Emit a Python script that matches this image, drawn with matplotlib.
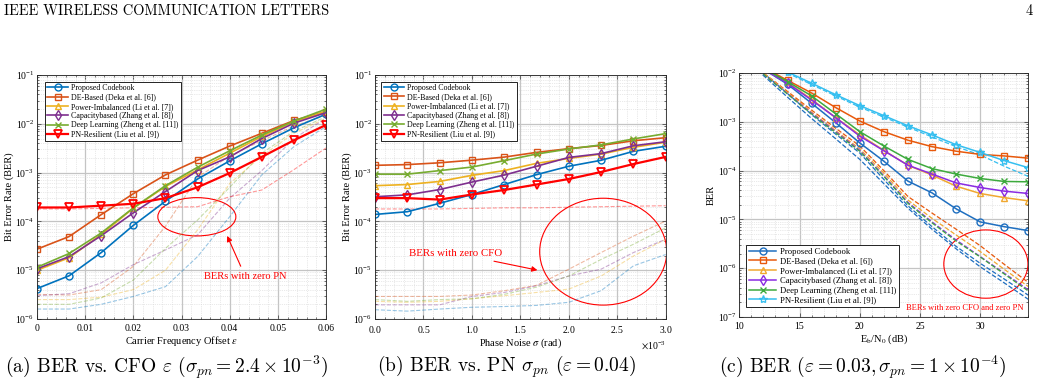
import numpy as np
import matplotlib
matplotlib.use('Agg')
import matplotlib.pyplot as plt
from matplotlib import ticker
from matplotlib.patches import Ellipse

plt.rcParams['font.family'] = ['Liberation Serif', 'DejaVu Serif']
plt.rcParams['mathtext.fontset'] = 'stix'

labels = ['Proposed Codebook', 'DE-Based (Deka et al. [6])', 'Power-Imbalanced (Li et al. [7])',
          'Capacitybased (Zhang et al. [8])', 'Deep Learning (Zheng et al. [11])']
label_pn = 'PN-Resilient (Liu et al. [9])'

# (a) BER vs CFO
cfo = [0, 0.00667, 0.01333, 0.02, 0.02667, 0.03333, 0.04, 0.04667, 0.05333, 0.06]
a_prop = [4.2e-6, 7.7e-6, 2.3e-5, 8.3e-5, 2.6e-4, 7.4e-4, 1.74e-3, 3.9e-3, 8.3e-3, 1.58e-2]
a_de = [2.7e-5, 4.9e-5, 1.38e-4, 3.7e-4, 9.0e-4, 1.8e-3, 3.5e-3, 6.4e-3, 1.17e-2, 1.78e-2]
a_pow = [1.0e-5, 1.8e-5, 5.4e-5, 1.87e-4, 5.2e-4, 1.14e-3, 2.5e-3, 5.5e-3, 1.1e-2, 1.8e-2]
a_cap = [1.07e-5, 1.9e-5, 5.1e-5, 1.5e-4, 4.1e-4, 1.1e-3, 2.1e-3, 5.0e-3, 1.03e-2, 1.7e-2]
a_dl = [1.15e-5, 2.2e-5, 5.8e-5, 1.9e-4, 5.4e-4, 1.29e-3, 2.8e-3, 5.9e-3, 1.14e-2, 2.0e-2]
a_pnr = [1.93e-4, 1.93e-4, 2.1e-4, 2.3e-4, 3.0e-4, 5.0e-4, 9.8e-4, 2.1e-3, 4.6e-3, 9.5e-3]
# zero PN (dashed)
a0_prop = [1.6e-6, 1.6e-6, 2.0e-6, 2.9e-6, 4.6e-6, 1.9e-5, 1.25e-4, 9e-4, 3.4e-3, 8.8e-3]
a0_de = [3.2e-6, 3.1e-6, 4.0e-6, 1.2e-5, 8e-5, 8e-4, 2.2e-3, 4.5e-3, 9e-3, 1.5e-2]
a0_pow = [2.5e-6, 2.5e-6, 2.8e-6, 4e-6, 1.0e-5, 6.7e-5, 6e-4, 2.2e-3, 6.4e-3, 1.3e-2]
a0_cap = [3.0e-6, 3.3e-6, 5.5e-6, 1.3e-5, 2.6e-5, 5.3e-5, 3e-4, 1.1e-3, 5e-3, 1.3e-2]
a0_dl = [2.0e-6, 2.0e-6, 2.7e-6, 6.3e-6, 2.8e-5, 1.07e-4, 5e-4, 2.5e-3, 7e-3, 1.4e-2]
a0_pnr = [1.8e-4, 1.8e-4, 1.85e-4, 1.9e-4, 1.95e-4, 2.0e-4, 3.2e-4, 4.4e-4, 1.15e-3, 3.2e-3]

# (b) BER vs PN
pn = [0, 0.000333, 0.000667, 0.001, 0.001333, 0.001667, 0.002, 0.002333, 0.002667, 0.003]
b_prop = [1.39e-4, 1.58e-4, 2.35e-4, 3.56e-4, 5.7e-4, 9.1e-4, 1.35e-3, 1.79e-3, 2.73e-3, 3.47e-3]
b_de = [1.41e-3, 1.46e-3, 1.59e-3, 1.8e-3, 2.08e-3, 2.6e-3, 3.1e-3, 3.6e-3, 4.5e-3, 5.2e-3]
b_pow = [5.4e-4, 5.7e-4, 6.6e-4, 8.8e-4, 1.1e-3, 1.55e-3, 1.95e-3, 2.4e-3, 3.3e-3, 4.2e-3]
b_cap = [3.2e-4, 3.5e-4, 4.5e-4, 6.4e-4, 8.9e-4, 1.35e-3, 2.05e-3, 2.45e-3, 3.55e-3, 4.3e-3]
b_dl = [9.3e-4, 9.3e-4, 1.1e-3, 1.3e-3, 1.76e-3, 2.4e-3, 3.05e-3, 3.7e-3, 4.9e-3, 6.3e-3]
b_pnr = [3.0e-4, 3.0e-4, 2.8e-4, 3.56e-4, 4.4e-4, 5.7e-4, 7.4e-4, 1.03e-3, 1.5e-3, 2.1e-3]
# zero CFO (dashed)
b0_prop = [1.55e-6, 1.45e-6, 1.6e-6, 1.74e-6, 1.8e-6, 1.9e-6, 2.2e-6, 3.8e-6, 1.23e-5, 2.1e-5]
b0_de = [2.9e-6, 2.9e-6, 2.9e-6, 3.1e-6, 3.8e-6, 4.9e-6, 1.05e-5, 2.3e-5, 5.0e-5, 1.02e-4]
b0_pow = [2.3e-6, 2.2e-6, 2.3e-6, 2.6e-6, 3.0e-6, 3.5e-6, 4.1e-6, 7.6e-6, 1.95e-5, 4.3e-5]
b0_cap = [1.95e-6, 1.95e-6, 1.95e-6, 2.9e-6, 3.5e-6, 4.8e-6, 7.6e-6, 1.05e-5, 2.3e-5, 4.3e-5]
b0_dl = [2.5e-6, 2.3e-6, 2.5e-6, 2.6e-6, 3.2e-6, 4.5e-6, 7.6e-6, 1.66e-5, 3.4e-5, 7.4e-5]
b0_pnr = [1.8e-4, 1.8e-4, 1.8e-4, 1.85e-4, 1.9e-4, 1.9e-4, 1.95e-4, 2.0e-4, 2.05e-4, 2.1e-4]

# (c) BER vs Eb/N0
snr = [10, 12, 14, 16, 18, 20, 22, 24, 26, 28, 30, 32, 34]
c_prop = [2.2e-2, 1.2e-2, 5.9e-3, 2.4e-3, 9.6e-4, 3.7e-4, 1.56e-4, 6.1e-5, 3.5e-5, 1.65e-5, 8.9e-6, 7.1e-6, 5.9e-6]
c_de = [2.2e-2, 1.3e-2, 7.1e-3, 3.9e-3, 1.96e-3, 1.04e-3, 6.3e-4, 4.2e-4, 3.1e-4, 2.5e-4, 2.15e-4, 2.0e-4, 1.8e-4]
c_pow = [2.2e-2, 1.2e-2, 6.4e-3, 2.9e-3, 1.22e-3, 5.4e-4, 2.6e-4, 1.29e-4, 8.1e-5, 4.8e-5, 3.4e-5, 2.8e-5, 2.4e-5]
c_cap = [2.2e-2, 1.2e-2, 6.2e-3, 2.8e-3, 1.22e-3, 5.1e-4, 2.56e-4, 1.29e-4, 8.5e-5, 5.6e-5, 4.5e-5, 3.8e-5, 3.4e-5]
c_dl = [2.2e-2, 1.25e-2, 6.7e-3, 3.4e-3, 1.46e-3, 6.3e-4, 3.2e-4, 1.7e-4, 1.1e-4, 8.5e-5, 6.9e-5, 6.0e-5, 5.9e-5]
c_pnr = [2.8e-2, 1.7e-2, 1.05e-2, 6.2e-3, 3.6e-3, 2.15e-3, 1.34e-3, 8.3e-4, 5.4e-4, 3.4e-4, 2.36e-4, 1.6e-4, 1.15e-4]
# zero CFO and zero PN (dashed)
c0_prop = [2.8e-2, 8.9e-3, 3.2e-3, 1.17e-3, 4.5e-4, 1.7e-4, 5.4e-5, 1.7e-5, 6.3e-6, 2.5e-6, 1.07e-6, 5.0e-7, 2.3e-7]
c0_prop2 = [3.2e-2, 1.0e-2, 3.8e-3, 1.41e-3, 5.6e-4, 2.3e-4, 6.6e-5, 1.9e-5, 7.1e-6, 2.8e-6, 1.26e-6, 6.0e-7, 2.8e-7]
c0_de = [2.8e-2, 1.0e-2, 4.2e-3, 1.74e-3, 7.4e-4, 3.2e-4, 1.0e-4, 2.95e-5, 1.35e-5, 6.3e-6, 2.9e-6, 1.2e-6, 5.1e-7]
c0_pow = [2.8e-2, 1.0e-2, 4.0e-3, 1.58e-3, 6.6e-4, 2.8e-4, 8.9e-5, 2.5e-5, 1.05e-5, 4.8e-6, 2.2e-6, 9.5e-7, 4.2e-7]
c0_cap = [2.8e-2, 9.5e-3, 3.8e-3, 1.51e-3, 6.3e-4, 2.6e-4, 7.9e-5, 2.24e-5, 8.9e-6, 3.8e-6, 1.74e-6, 7.9e-7, 3.6e-7]
c0_dl = [2.8e-2, 9.5e-3, 3.7e-3, 1.45e-3, 6.0e-4, 2.5e-4, 7.6e-5, 2.14e-5, 8.5e-6, 3.6e-6, 1.7e-6, 7.6e-7, 3.4e-7]
c0_pnr = [3.0e-2, 1.8e-2, 1.0e-2, 5.8e-3, 3.4e-3, 2.0e-3, 1.25e-3, 7.8e-4, 4.9e-4, 3.1e-4, 2.1e-4, 1.23e-4, 7.6e-5]

cols_ab = ['#0072BD', '#D95319', '#EDB120', '#7E2F8E', '#77AC30']
cols_c = ['#1F6FC0', '#E8590C', '#F0A830', '#8A2BE2', '#3DAA3D', '#35BFF0']
markers = ['o', 's', '^', 'd', 'x']

fig = plt.figure(figsize=(10.4, 3.83), dpi=100)
ax_a = fig.add_axes([0.0356, 0.1671, 0.2779, 0.637])
ax_b = fig.add_axes([0.3606, 0.1671, 0.2795, 0.637])
ax_c = fig.add_axes([0.7109, 0.1723, 0.2779, 0.637])


def style(ax, xlim, ylim):
    ax.set_yscale('log')
    ax.set_xlim(xlim)
    ax.set_ylim(ylim)
    ax.yaxis.set_major_locator(ticker.LogLocator(base=10, numticks=20))
    ax.yaxis.set_minor_locator(ticker.LogLocator(base=10, subs=np.arange(2, 10), numticks=50))
    ax.yaxis.set_minor_formatter(ticker.NullFormatter())
    ax.xaxis.set_minor_locator(ticker.AutoMinorLocator(5))
    ax.grid(True, which='major', color='#c4c4c4', lw=0.9)
    ax.grid(True, which='minor', color='#d4d4d4', lw=0.5, ls=':')
    ax.set_axisbelow(True)
    ax.tick_params(which='both', direction='in', top=True, right=True, labelsize=7,
                   width=0.5, color='#333333', pad=2)
    ax.tick_params(axis='x', which='major', pad=3.5)
    ax.tick_params(which='major', length=3)
    ax.tick_params(which='minor', length=1.5)
    for s in ax.spines.values():
        s.set_linewidth(0.6)
        s.set_color('#222222')


def legend(ax, loc, anchor, fs, hl, ls):
    lg = ax.legend(loc=loc, bbox_to_anchor=anchor, fontsize=fs, frameon=True, fancybox=False,
                   edgecolor='black', framealpha=1, handlelength=hl, borderpad=0.3,
                   labelspacing=ls, handletextpad=0.4, borderaxespad=0)
    lg.get_frame().set_linewidth(0.6)


# ---- (a)
for d, c in zip([a0_prop, a0_de, a0_pow, a0_cap, a0_dl], cols_ab):
    ax_a.plot(cfo, d, '--', color=c, alpha=0.4, lw=0.8)
ax_a.plot(cfo, a0_pnr, '--', color='red', alpha=0.4, lw=0.8)
for d, c, m, l in zip([a_prop, a_de, a_pow, a_cap, a_dl], cols_ab, markers, labels):
    ax_a.plot(cfo, d, '-', color=c, marker=m, mfc='none', ms=5, mew=1.0, lw=1.2, label=l)
ax_a.plot(cfo, a_pnr, '-', color='red', marker='v', mfc='none', ms=6, mew=1.3, lw=1.6, label=label_pn)
style(ax_a, (0, 0.06), (1e-6, 1e-1))
ax_a.set_xticks([0, 0.01, 0.02, 0.03, 0.04, 0.05, 0.06])
ax_a.set_xticklabels(['0', '0.01', '0.02', '0.03', '0.04', '0.05', '0.06'])
ax_a.set_xlabel(r'Carrier Frequency Offset $\epsilon$', fontsize=7.5, labelpad=1)
ax_a.set_ylabel('Bit Error Rate (BER)', fontsize=7.5, labelpad=1)
legend(ax_a, 'upper left', (0.028, 0.972), 5.7, 2.6, 0.16)
ax_a.add_patch(Ellipse((0.553, 0.419), 0.27, 0.157, transform=ax_a.transAxes,
                       fill=False, color='red', lw=0.8))
ax_a.annotate('BERs with zero PN', xy=(0.654, 0.351), xycoords='axes fraction',
              xytext=(0.72, 0.176), textcoords='axes fraction', ha='center', va='center',
              color='red', fontsize=7.6,
              arrowprops=dict(arrowstyle='-|>', color='red', lw=0.8, mutation_scale=8))

# ---- (b)
for d, c in zip([b0_prop, b0_de, b0_pow, b0_cap, b0_dl], cols_ab):
    ax_b.plot(pn, d, '--', color=c, alpha=0.4, lw=0.8)
ax_b.plot(pn, b0_pnr, '--', color='red', alpha=0.4, lw=0.8)
for d, c, m, l in zip([b_prop, b_de, b_pow, b_cap, b_dl], cols_ab, markers, labels):
    ax_b.plot(pn, d, '-', color=c, marker=m, mfc='none', ms=5, mew=1.0, lw=1.2, label=l)
ax_b.plot(pn, b_pnr, '-', color='red', marker='v', mfc='none', ms=6, mew=1.3, lw=1.6, label=label_pn)
style(ax_b, (0, 0.003), (1e-6, 1e-1))
ax_b.set_xticks([0, 0.0005, 0.001, 0.0015, 0.002, 0.0025, 0.003])
fmt = ticker.ScalarFormatter(useMathText=True)
fmt.set_powerlimits((-2, 2))
ax_b.xaxis.set_major_formatter(fmt)
ax_b.xaxis.get_offset_text().set_fontsize(7)
ax_b.set_xlabel(r'Phase Noise $\sigma$ (rad)', fontsize=7.5, labelpad=1)
ax_b.set_ylabel('Bit Error Rate (BER)', fontsize=7.5, labelpad=1)
legend(ax_b, 'upper left', (0.021, 0.973), 5.7, 2.6, 0.16)
ax_b.add_patch(Ellipse((0.785, 0.276), 0.437, 0.438, transform=ax_b.transAxes,
                       fill=False, color='red', lw=0.8))
ax_b.annotate('BERs with zero CFO', xy=(0.568, 0.198), xycoords='axes fraction',
              xytext=(0.278, 0.269), textcoords='axes fraction', ha='center', va='center',
              color='red', fontsize=7.8,
              arrowprops=dict(arrowstyle='-|>', color='red', lw=0.8, mutation_scale=8))

# ---- (c)
for d, c in zip([c0_prop, c0_prop2, c0_de, c0_pow, c0_cap, c0_dl, c0_pnr],
                [cols_c[0], cols_c[0], cols_c[1], cols_c[2], cols_c[3], cols_c[4], cols_c[5]]):
    ax_c.plot(snr, d, '--', color=c, lw=0.9)
c_markers = markers + ['*']
for d, c, m, l in zip([c_prop, c_de, c_pow, c_cap, c_dl, c_pnr], cols_c, c_markers, labels + [label_pn]):
    ax_c.plot(snr, d, '-', color=c, marker=m, mfc='none', ms=6 if m == '*' else 5, mew=1.0,
              lw=1.1, label=l, markevery=slice(2, None))
style(ax_c, (10, 34), (1e-7, 1e-2))
ax_c.set_xticks([10, 15, 20, 25, 30])
ax_c.set_xlabel(r'E$_\mathrm{b}$/N$_0$ (dB)', fontsize=7.5, labelpad=1)
ax_c.set_ylabel('BER', fontsize=7.5, labelpad=1)
legend(ax_c, 'lower left', (0.024, 0.041), 6.2, 3.2, 0.2)
ax_c.add_patch(Ellipse((0.853, 0.217), 0.291, 0.28, transform=ax_c.transAxes,
                       fill=False, color='red', lw=0.8))
ax_c.text(0.78, 0.037, 'BERs with zero CFO and zero PN', transform=ax_c.transAxes,
          ha='center', va='center', color='red', fontsize=6.1)

# page header and captions
fig.text(0.004, 0.972, 'IEEE WIRELESS COMMUNICATION LETTERS', family='cmr10', fontsize=10.4,
         ha='left', va='center')
fig.text(0.993, 0.972, '4', family='cmr10', fontsize=10.4, ha='right', va='center')
fig.text(0.160, 0.042, r'(a) BER vs. CFO $\varepsilon$ $(\sigma_{pn} = 2.4 \times 10^{-3})$',
         family='cmr10', math_fontfamily='cm', fontsize=14, ha='center', va='center')
fig.text(0.487, 0.042, r'(b) BER vs. PN $\sigma_{pn}$ $(\varepsilon = 0.04)$',
         family='cmr10', math_fontfamily='cm', fontsize=14, ha='center', va='center')
fig.text(0.830, 0.042, r'(c) BER $(\varepsilon = 0.03, \sigma_{pn} = 1 \times 10^{-4})$',
         family='cmr10', math_fontfamily='cm', fontsize=14, ha='center', va='center')

fig.savefig('out.png', dpi=100)
